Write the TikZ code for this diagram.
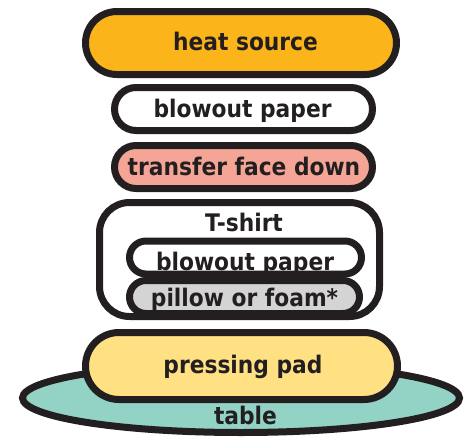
\documentclass[tikz,border=0pt]{standalone}
\usepackage{fontspec}
\setmainfont[FakeStretch=0.9]{DejaVu Sans}
\definecolor{ink}{HTML}{231F20}
\definecolor{heat}{HTML}{FBB419}
\definecolor{transfer}{HTML}{F5A595}
\definecolor{pillow}{HTML}{D4D4D4}
\definecolor{pad}{HTML}{FFE083}
\definecolor{tablec}{HTML}{92D3C5}
\begin{document}
\begin{tikzpicture}[x=1pt,y=-1pt,
  layer/.style={draw=ink, line width=7pt, inner sep=0pt},
  pill/.style n args={2}{layer, minimum width=#1, minimum height=#2, rounded corners=#2/2},
  lbl/.style={anchor=base, inner sep=0pt, text=ink, font=\fontsize{24.2}{24}\selectfont\bfseries}]
\useasboundingbox (0,0) rectangle (464,437);
% table
\draw[draw=ink, line width=7pt, fill=tablec] (241,398) ellipse [x radius=218.5, y radius=34.5];
\node[lbl] (table) at (245.5,424) {table};
% pressing pad
\node[pill={312pt}{67pt}, fill=pad] (pad) at (241.5,366) {};
\node[lbl] (padl) at (243,373) {pressing pad};
% T-shirt
\node[layer, fill=white, minimum width=280pt, minimum height=114pt, rounded corners=30pt] (tshirt) at (239.5,259.5) {};
\node[lbl] (tlabel) at (244,231.7) {T-shirt};
\node[pill={232pt}{33pt}, fill=white] (blow2) at (245.5,257.5) {};
\node[lbl] (blow2l) at (245,270.5) {blowout paper};
\node[pill={230pt}{33pt}, fill=pillow] (foam) at (244.5,297) {};
\node[lbl] (foaml) at (244.5,306.7) {pillow or foam*};
% transfer
\node[pill={258pt}{43pt}, fill=transfer] (transfer) at (243.5,167) {};
\node[lbl] (transferl) at (244,175) {transfer face down};
% blowout paper
\node[pill={258pt}{43pt}, fill=white] (blow1) at (243.5,109) {};
\node[lbl] (blow1l) at (242.5,117.5) {blowout paper};
% heat source
\node[pill={311pt}{63pt}, fill=heat] (heat) at (241,43) {};
\node[lbl] (heatl) at (245.5,50.7) {heat source};
\end{tikzpicture}
\end{document}
